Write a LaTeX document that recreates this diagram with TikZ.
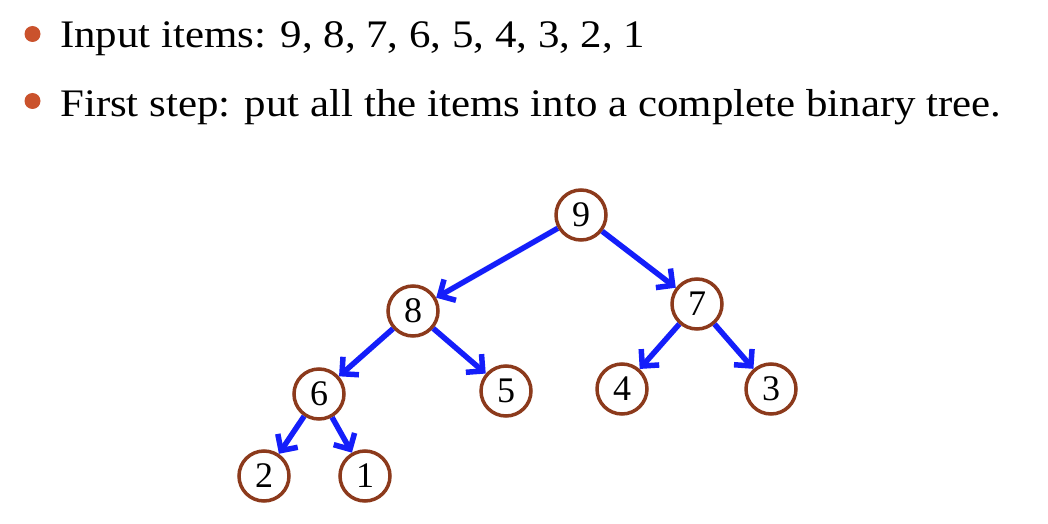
\documentclass[tikz,border=0pt]{standalone}
\usepackage{fontspec}
\setmainfont{Liberation Serif}
\usetikzlibrary{arrows.meta}
\definecolor{bulletc}{RGB}{202,82,44}
\definecolor{ringc}{RGB}{140,58,28}
\definecolor{edgec}{RGB}{20,30,250}
\tikzset{
  hnode/.style={circle, draw=ringc, line width=3.5pt, fill=white, minimum size=50pt, inner sep=0pt, font=\fontsize{36}{38}\selectfont},
  hedge/.style={draw=edgec, line width=5.5pt, -{Straight Barb[length=12pt,width=24pt]}},
  btext/.style={anchor=base west, inner sep=0pt, font=\fontsize{39}{42}\selectfont, xscale=1.1},
  bdot/.style={circle, fill=bulletc, minimum size=16pt, inner sep=0pt}
}
\begin{document}
\begin{tikzpicture}[x=1pt,y=-1pt]
\useasboundingbox (0,0) rectangle (1048,524);
\node[bdot] (b1) at (32.5,34) {};
\node[bdot] (b2) at (32.5,101) {};
\node[btext] (t1) at (60,48) {Input items: 9, 8, 7, 6, 5, 4, 3, 2, 1};
\node[btext] (t2) at (60,117) {First step: put all the items into a complete binary tree.};
\node[hnode] (n9) at (581,215) {9};
\node[hnode] (n8) at (413,311) {8};
\node[hnode] (n7) at (697,304) {7};
\node[hnode] (n6) at (319,394) {6};
\node[hnode] (n5) at (506,391) {5};
\node[hnode] (n4) at (622,389) {4};
\node[hnode] (n3) at (771,389) {3};
\node[hnode] (n2) at (264,476) {2};
\node[hnode] (n1) at (365,476) {1};
\draw[hedge] (n9) -- (n8);
\draw[hedge] (n9) -- (n7);
\draw[hedge] (n8) -- (n6);
\draw[hedge] (n8) -- (n5);
\draw[hedge] (n7) -- (n4);
\draw[hedge] (n7) -- (n3);
\draw[hedge] (n6) -- (n2);
\draw[hedge] (n6) -- (n1);
\end{tikzpicture}
\end{document}
